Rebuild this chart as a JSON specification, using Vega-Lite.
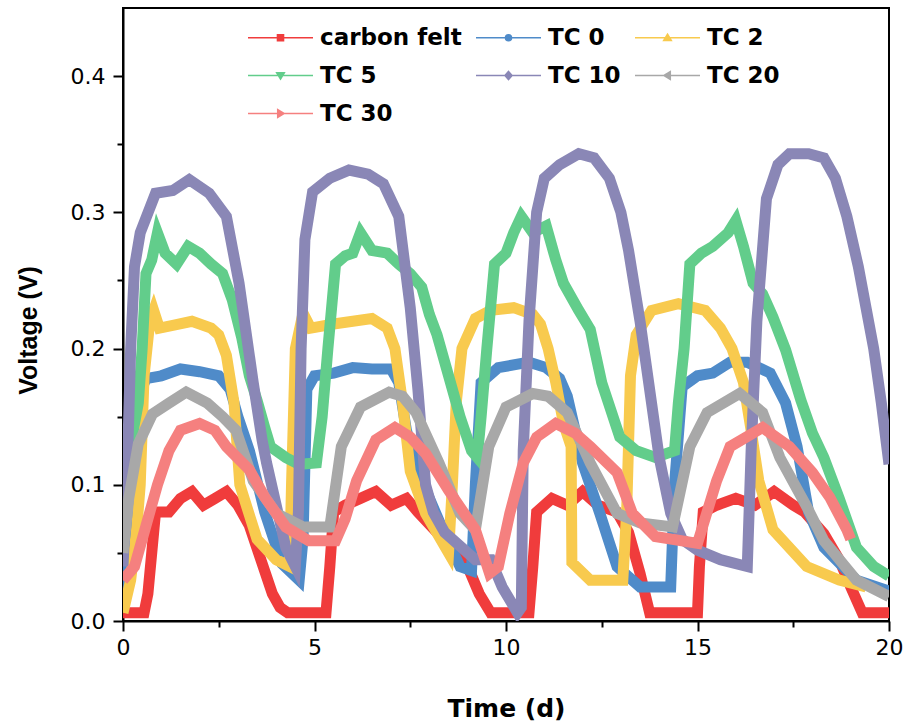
{
"$schema": "https://vega.github.io/schema/vega-lite/v6.json",
"width": 766, "height": 613,
"autosize": {"type": "none"},
"padding": {"left": 123, "top": 8, "right": 18, "bottom": 105},
"background": "white",
"config": {"view": {"stroke": "black", "strokeWidth": 2}},
"data": {"values": [
{"s":"carbon felt","t":0,"v":0.006},{"s":"carbon felt","t":0.55,"v":0.006},{"s":"carbon felt","t":0.65,"v":0.02},{"s":"carbon felt","t":0.75,"v":0.05},{"s":"carbon felt","t":0.85,"v":0.08},{"s":"carbon felt","t":1.2,"v":0.08},{"s":"carbon felt","t":1.5,"v":0.09},{"s":"carbon felt","t":1.8,"v":0.095},{"s":"carbon felt","t":2.1,"v":0.085},{"s":"carbon felt","t":2.4,"v":0.09},{"s":"carbon felt","t":2.7,"v":0.095},{"s":"carbon felt","t":3.0,"v":0.085},{"s":"carbon felt","t":3.3,"v":0.07},{"s":"carbon felt","t":3.6,"v":0.045},{"s":"carbon felt","t":3.9,"v":0.02},{"s":"carbon felt","t":4.1,"v":0.01},{"s":"carbon felt","t":4.3,"v":0.006},{"s":"carbon felt","t":5.3,"v":0.006},{"s":"carbon felt","t":5.4,"v":0.04},{"s":"carbon felt","t":5.5,"v":0.08},{"s":"carbon felt","t":5.8,"v":0.085},{"s":"carbon felt","t":6.2,"v":0.09},{"s":"carbon felt","t":6.6,"v":0.095},{"s":"carbon felt","t":7.0,"v":0.085},{"s":"carbon felt","t":7.4,"v":0.09},{"s":"carbon felt","t":7.7,"v":0.08},{"s":"carbon felt","t":8.2,"v":0.065},{"s":"carbon felt","t":8.7,"v":0.05},{"s":"carbon felt","t":9.0,"v":0.04},{"s":"carbon felt","t":9.3,"v":0.02},{"s":"carbon felt","t":9.6,"v":0.006},{"s":"carbon felt","t":10.6,"v":0.006},{"s":"carbon felt","t":10.7,"v":0.04},{"s":"carbon felt","t":10.8,"v":0.08},{"s":"carbon felt","t":11.2,"v":0.09},{"s":"carbon felt","t":11.6,"v":0.085},{"s":"carbon felt","t":12.0,"v":0.095},{"s":"carbon felt","t":12.4,"v":0.085},{"s":"carbon felt","t":12.9,"v":0.08},{"s":"carbon felt","t":13.2,"v":0.065},{"s":"carbon felt","t":13.5,"v":0.035},{"s":"carbon felt","t":13.75,"v":0.006},{"s":"carbon felt","t":15.0,"v":0.006},{"s":"carbon felt","t":15.05,"v":0.04},{"s":"carbon felt","t":15.15,"v":0.08},{"s":"carbon felt","t":15.5,"v":0.085},{"s":"carbon felt","t":16.0,"v":0.09},{"s":"carbon felt","t":16.5,"v":0.085},{"s":"carbon felt","t":17.0,"v":0.095},{"s":"carbon felt","t":17.5,"v":0.085},{"s":"carbon felt","t":17.8,"v":0.08},{"s":"carbon felt","t":18.3,"v":0.064},{"s":"carbon felt","t":18.7,"v":0.045},{"s":"carbon felt","t":19.0,"v":0.025},{"s":"carbon felt","t":19.3,"v":0.006},{"s":"carbon felt","t":20,"v":0.006},

{"s":"TC 0","t":0,"v":0.02},{"s":"TC 0","t":0.15,"v":0.08},{"s":"TC 0","t":0.35,"v":0.16},{"s":"TC 0","t":0.6,"v":0.178},{"s":"TC 0","t":1.0,"v":0.18},{"s":"TC 0","t":1.5,"v":0.185},{"s":"TC 0","t":2.0,"v":0.183},{"s":"TC 0","t":2.5,"v":0.18},{"s":"TC 0","t":2.8,"v":0.17},{"s":"TC 0","t":3.0,"v":0.15},{"s":"TC 0","t":3.3,"v":0.125},{"s":"TC 0","t":3.7,"v":0.08},{"s":"TC 0","t":4.15,"v":0.042},{"s":"TC 0","t":4.6,"v":0.03},{"s":"TC 0","t":4.7,"v":0.06},{"s":"TC 0","t":4.8,"v":0.17},{"s":"TC 0","t":5.0,"v":0.18},{"s":"TC 0","t":5.5,"v":0.182},{"s":"TC 0","t":6.0,"v":0.186},{"s":"TC 0","t":6.5,"v":0.185},{"s":"TC 0","t":7.0,"v":0.185},{"s":"TC 0","t":7.2,"v":0.175},{"s":"TC 0","t":7.4,"v":0.14},{"s":"TC 0","t":7.7,"v":0.11},{"s":"TC 0","t":8.0,"v":0.09},{"s":"TC 0","t":8.35,"v":0.067},{"s":"TC 0","t":8.8,"v":0.04},{"s":"TC 0","t":9.1,"v":0.037},{"s":"TC 0","t":9.2,"v":0.1},{"s":"TC 0","t":9.35,"v":0.175},{"s":"TC 0","t":9.8,"v":0.186},{"s":"TC 0","t":10.6,"v":0.19},{"s":"TC 0","t":11.05,"v":0.186},{"s":"TC 0","t":11.4,"v":0.178},{"s":"TC 0","t":11.6,"v":0.165},{"s":"TC 0","t":12.0,"v":0.116},{"s":"TC 0","t":12.45,"v":0.079},{"s":"TC 0","t":12.9,"v":0.04},{"s":"TC 0","t":13.5,"v":0.025},{"s":"TC 0","t":14.3,"v":0.025},{"s":"TC 0","t":14.4,"v":0.1},{"s":"TC 0","t":14.6,"v":0.172},{"s":"TC 0","t":15.0,"v":0.18},{"s":"TC 0","t":15.4,"v":0.182},{"s":"TC 0","t":15.85,"v":0.19},{"s":"TC 0","t":16.3,"v":0.19},{"s":"TC 0","t":16.9,"v":0.182},{"s":"TC 0","t":17.3,"v":0.16},{"s":"TC 0","t":17.6,"v":0.128},{"s":"TC 0","t":17.9,"v":0.08},{"s":"TC 0","t":18.3,"v":0.054},{"s":"TC 0","t":19.15,"v":0.03},{"s":"TC 0","t":20,"v":0.022},

{"s":"TC 2","t":0,"v":0.006},{"s":"TC 2","t":0.2,"v":0.03},{"s":"TC 2","t":0.35,"v":0.065},{"s":"TC 2","t":0.45,"v":0.1},{"s":"TC 2","t":0.55,"v":0.18},{"s":"TC 2","t":0.7,"v":0.22},{"s":"TC 2","t":0.8,"v":0.228},{"s":"TC 2","t":0.95,"v":0.215},{"s":"TC 2","t":1.3,"v":0.217},{"s":"TC 2","t":1.8,"v":0.22},{"s":"TC 2","t":2.3,"v":0.215},{"s":"TC 2","t":2.5,"v":0.21},{"s":"TC 2","t":2.7,"v":0.195},{"s":"TC 2","t":2.9,"v":0.16},{"s":"TC 2","t":3.05,"v":0.1},{"s":"TC 2","t":3.5,"v":0.06},{"s":"TC 2","t":4.0,"v":0.045},{"s":"TC 2","t":4.35,"v":0.04},{"s":"TC 2","t":4.4,"v":0.1},{"s":"TC 2","t":4.5,"v":0.2},{"s":"TC 2","t":4.7,"v":0.226},{"s":"TC 2","t":4.9,"v":0.215},{"s":"TC 2","t":5.5,"v":0.218},{"s":"TC 2","t":6.0,"v":0.22},{"s":"TC 2","t":6.5,"v":0.222},{"s":"TC 2","t":6.9,"v":0.215},{"s":"TC 2","t":7.1,"v":0.2},{"s":"TC 2","t":7.3,"v":0.16},{"s":"TC 2","t":7.5,"v":0.11},{"s":"TC 2","t":7.9,"v":0.079},{"s":"TC 2","t":8.5,"v":0.05},{"s":"TC 2","t":8.6,"v":0.1},{"s":"TC 2","t":8.7,"v":0.16},{"s":"TC 2","t":8.85,"v":0.2},{"s":"TC 2","t":9.2,"v":0.222},{"s":"TC 2","t":9.6,"v":0.228},{"s":"TC 2","t":10.2,"v":0.23},{"s":"TC 2","t":10.7,"v":0.225},{"s":"TC 2","t":10.9,"v":0.218},{"s":"TC 2","t":11.1,"v":0.2},{"s":"TC 2","t":11.3,"v":0.175},{"s":"TC 2","t":11.5,"v":0.145},{"s":"TC 2","t":11.7,"v":0.128},{"s":"TC 2","t":11.72,"v":0.043},{"s":"TC 2","t":12.2,"v":0.03},{"s":"TC 2","t":13.05,"v":0.03},{"s":"TC 2","t":13.15,"v":0.08},{"s":"TC 2","t":13.25,"v":0.18},{"s":"TC 2","t":13.4,"v":0.21},{"s":"TC 2","t":13.8,"v":0.228},{"s":"TC 2","t":14.5,"v":0.233},{"s":"TC 2","t":15.2,"v":0.228},{"s":"TC 2","t":15.6,"v":0.215},{"s":"TC 2","t":15.9,"v":0.2},{"s":"TC 2","t":16.2,"v":0.175},{"s":"TC 2","t":16.4,"v":0.14},{"s":"TC 2","t":16.6,"v":0.103},{"s":"TC 2","t":16.97,"v":0.067},{"s":"TC 2","t":17.85,"v":0.04},{"s":"TC 2","t":18.7,"v":0.03},{"s":"TC 2","t":19.4,"v":0.025},

{"s":"TC 5","t":0,"v":0.1},{"s":"TC 5","t":0.2,"v":0.13},{"s":"TC 5","t":0.4,"v":0.16},{"s":"TC 5","t":0.5,"v":0.2},{"s":"TC 5","t":0.6,"v":0.255},{"s":"TC 5","t":0.75,"v":0.265},{"s":"TC 5","t":0.9,"v":0.285},{"s":"TC 5","t":1.1,"v":0.27},{"s":"TC 5","t":1.4,"v":0.262},{"s":"TC 5","t":1.7,"v":0.275},{"s":"TC 5","t":2.0,"v":0.27},{"s":"TC 5","t":2.3,"v":0.262},{"s":"TC 5","t":2.6,"v":0.255},{"s":"TC 5","t":2.85,"v":0.236},{"s":"TC 5","t":3.1,"v":0.208},{"s":"TC 5","t":3.3,"v":0.18},{"s":"TC 5","t":3.5,"v":0.162},{"s":"TC 5","t":3.7,"v":0.142},{"s":"TC 5","t":3.85,"v":0.128},{"s":"TC 5","t":4.25,"v":0.12},{"s":"TC 5","t":4.6,"v":0.115},{"s":"TC 5","t":5.05,"v":0.116},{"s":"TC 5","t":5.2,"v":0.15},{"s":"TC 5","t":5.35,"v":0.2},{"s":"TC 5","t":5.55,"v":0.262},{"s":"TC 5","t":5.8,"v":0.268},{"s":"TC 5","t":6.0,"v":0.27},{"s":"TC 5","t":6.2,"v":0.285},{"s":"TC 5","t":6.5,"v":0.272},{"s":"TC 5","t":6.9,"v":0.27},{"s":"TC 5","t":7.2,"v":0.262},{"s":"TC 5","t":7.5,"v":0.255},{"s":"TC 5","t":7.8,"v":0.245},{"s":"TC 5","t":8.0,"v":0.225},{"s":"TC 5","t":8.2,"v":0.21},{"s":"TC 5","t":8.5,"v":0.18},{"s":"TC 5","t":8.8,"v":0.15},{"s":"TC 5","t":9.1,"v":0.125},{"s":"TC 5","t":9.25,"v":0.12},{"s":"TC 5","t":9.35,"v":0.15},{"s":"TC 5","t":9.5,"v":0.2},{"s":"TC 5","t":9.7,"v":0.262},{"s":"TC 5","t":10.0,"v":0.27},{"s":"TC 5","t":10.2,"v":0.285},{"s":"TC 5","t":10.4,"v":0.297},{"s":"TC 5","t":10.7,"v":0.285},{"s":"TC 5","t":11.05,"v":0.29},{"s":"TC 5","t":11.3,"v":0.265},{"s":"TC 5","t":11.5,"v":0.248},{"s":"TC 5","t":11.9,"v":0.228},{"s":"TC 5","t":12.2,"v":0.214},{"s":"TC 5","t":12.5,"v":0.175},{"s":"TC 5","t":12.97,"v":0.135},{"s":"TC 5","t":13.4,"v":0.125},{"s":"TC 5","t":13.9,"v":0.12},{"s":"TC 5","t":14.4,"v":0.125},{"s":"TC 5","t":14.5,"v":0.16},{"s":"TC 5","t":14.65,"v":0.2},{"s":"TC 5","t":14.8,"v":0.262},{"s":"TC 5","t":15.1,"v":0.27},{"s":"TC 5","t":15.4,"v":0.275},{"s":"TC 5","t":15.8,"v":0.285},{"s":"TC 5","t":16.0,"v":0.294},{"s":"TC 5","t":16.2,"v":0.275},{"s":"TC 5","t":16.45,"v":0.248},{"s":"TC 5","t":16.7,"v":0.24},{"s":"TC 5","t":16.97,"v":0.223},{"s":"TC 5","t":17.3,"v":0.199},{"s":"TC 5","t":17.7,"v":0.162},{"s":"TC 5","t":18.0,"v":0.138},{"s":"TC 5","t":18.3,"v":0.12},{"s":"TC 5","t":18.7,"v":0.09},{"s":"TC 5","t":19.15,"v":0.054},{"s":"TC 5","t":19.6,"v":0.04},{"s":"TC 5","t":20,"v":0.033},

{"s":"TC 10","t":0,"v":0.04},{"s":"TC 10","t":0.1,"v":0.1},{"s":"TC 10","t":0.2,"v":0.2},{"s":"TC 10","t":0.3,"v":0.26},{"s":"TC 10","t":0.45,"v":0.285},{"s":"TC 10","t":0.85,"v":0.314},{"s":"TC 10","t":1.3,"v":0.316},{"s":"TC 10","t":1.73,"v":0.324},{"s":"TC 10","t":2.25,"v":0.314},{"s":"TC 10","t":2.7,"v":0.297},{"s":"TC 10","t":3.03,"v":0.248},{"s":"TC 10","t":3.4,"v":0.175},{"s":"TC 10","t":3.63,"v":0.133},{"s":"TC 10","t":3.75,"v":0.116},{"s":"TC 10","t":4.25,"v":0.054},{"s":"TC 10","t":4.5,"v":0.04},{"s":"TC 10","t":4.58,"v":0.08},{"s":"TC 10","t":4.65,"v":0.2},{"s":"TC 10","t":4.75,"v":0.28},{"s":"TC 10","t":4.95,"v":0.315},{"s":"TC 10","t":5.4,"v":0.325},{"s":"TC 10","t":5.9,"v":0.331},{"s":"TC 10","t":6.4,"v":0.328},{"s":"TC 10","t":6.8,"v":0.321},{"s":"TC 10","t":7.2,"v":0.297},{"s":"TC 10","t":7.5,"v":0.23},{"s":"TC 10","t":7.7,"v":0.17},{"s":"TC 10","t":7.9,"v":0.1},{"s":"TC 10","t":8.1,"v":0.08},{"s":"TC 10","t":8.4,"v":0.065},{"s":"TC 10","t":9.2,"v":0.045},{"s":"TC 10","t":9.6,"v":0.045},{"s":"TC 10","t":9.9,"v":0.025},{"s":"TC 10","t":10.3,"v":0.006},{"s":"TC 10","t":10.4,"v":0.01},{"s":"TC 10","t":10.45,"v":0.125},{"s":"TC 10","t":10.6,"v":0.22},{"s":"TC 10","t":10.8,"v":0.3},{"s":"TC 10","t":11.0,"v":0.325},{"s":"TC 10","t":11.4,"v":0.335},{"s":"TC 10","t":11.9,"v":0.343},{"s":"TC 10","t":12.3,"v":0.34},{"s":"TC 10","t":12.7,"v":0.325},{"s":"TC 10","t":13.0,"v":0.3},{"s":"TC 10","t":13.2,"v":0.272},{"s":"TC 10","t":13.5,"v":0.22},{"s":"TC 10","t":13.8,"v":0.16},{"s":"TC 10","t":14.0,"v":0.12},{"s":"TC 10","t":14.3,"v":0.079},{"s":"TC 10","t":14.6,"v":0.06},{"s":"TC 10","t":15.0,"v":0.052},{"s":"TC 10","t":15.6,"v":0.045},{"s":"TC 10","t":16.3,"v":0.04},{"s":"TC 10","t":16.4,"v":0.125},{"s":"TC 10","t":16.55,"v":0.22},{"s":"TC 10","t":16.8,"v":0.31},{"s":"TC 10","t":17.1,"v":0.335},{"s":"TC 10","t":17.4,"v":0.343},{"s":"TC 10","t":17.9,"v":0.343},{"s":"TC 10","t":18.3,"v":0.34},{"s":"TC 10","t":18.6,"v":0.325},{"s":"TC 10","t":18.9,"v":0.297},{"s":"TC 10","t":19.2,"v":0.26},{"s":"TC 10","t":19.4,"v":0.23},{"s":"TC 10","t":19.6,"v":0.2},{"s":"TC 10","t":19.8,"v":0.16},{"s":"TC 10","t":20,"v":0.115},

{"s":"TC 20","t":0,"v":0.05},{"s":"TC 20","t":0.15,"v":0.09},{"s":"TC 20","t":0.4,"v":0.13},{"s":"TC 20","t":0.77,"v":0.152},{"s":"TC 20","t":1.2,"v":0.16},{"s":"TC 20","t":1.65,"v":0.168},{"s":"TC 20","t":2.2,"v":0.16},{"s":"TC 20","t":2.6,"v":0.15},{"s":"TC 20","t":2.95,"v":0.14},{"s":"TC 20","t":3.4,"v":0.103},{"s":"TC 20","t":4.0,"v":0.079},{"s":"TC 20","t":4.7,"v":0.069},{"s":"TC 20","t":5.4,"v":0.069},{"s":"TC 20","t":5.7,"v":0.128},{"s":"TC 20","t":6.2,"v":0.157},{"s":"TC 20","t":6.95,"v":0.168},{"s":"TC 20","t":7.3,"v":0.165},{"s":"TC 20","t":7.65,"v":0.153},{"s":"TC 20","t":8.25,"v":0.116},{"s":"TC 20","t":8.8,"v":0.079},{"s":"TC 20","t":9.2,"v":0.067},{"s":"TC 20","t":9.55,"v":0.128},{"s":"TC 20","t":10.0,"v":0.157},{"s":"TC 20","t":10.7,"v":0.167},{"s":"TC 20","t":11.1,"v":0.165},{"s":"TC 20","t":11.6,"v":0.153},{"s":"TC 20","t":12.2,"v":0.116},{"s":"TC 20","t":12.9,"v":0.079},{"s":"TC 20","t":13.5,"v":0.072},{"s":"TC 20","t":14.35,"v":0.069},{"s":"TC 20","t":14.8,"v":0.128},{"s":"TC 20","t":15.25,"v":0.153},{"s":"TC 20","t":16.1,"v":0.167},{"s":"TC 20","t":16.7,"v":0.153},{"s":"TC 20","t":17.15,"v":0.12},{"s":"TC 20","t":17.85,"v":0.084},{"s":"TC 20","t":18.3,"v":0.059},{"s":"TC 20","t":19.15,"v":0.03},{"s":"TC 20","t":20,"v":0.018},

{"s":"TC 30","t":0,"v":0.03},{"s":"TC 30","t":0.3,"v":0.04},{"s":"TC 30","t":0.6,"v":0.07},{"s":"TC 30","t":0.9,"v":0.1},{"s":"TC 30","t":1.2,"v":0.125},{"s":"TC 30","t":1.5,"v":0.14},{"s":"TC 30","t":2.0,"v":0.145},{"s":"TC 30","t":2.4,"v":0.14},{"s":"TC 30","t":2.7,"v":0.128},{"s":"TC 30","t":3.3,"v":0.111},{"s":"TC 30","t":3.7,"v":0.091},{"s":"TC 30","t":4.25,"v":0.069},{"s":"TC 30","t":4.85,"v":0.059},{"s":"TC 30","t":5.55,"v":0.059},{"s":"TC 30","t":5.8,"v":0.075},{"s":"TC 30","t":6.1,"v":0.103},{"s":"TC 30","t":6.6,"v":0.133},{"s":"TC 30","t":7.1,"v":0.142},{"s":"TC 30","t":7.5,"v":0.135},{"s":"TC 30","t":7.9,"v":0.123},{"s":"TC 30","t":8.5,"v":0.096},{"s":"TC 30","t":9.2,"v":0.067},{"s":"TC 30","t":9.57,"v":0.035},{"s":"TC 30","t":9.8,"v":0.04},{"s":"TC 30","t":10.1,"v":0.079},{"s":"TC 30","t":10.45,"v":0.116},{"s":"TC 30","t":10.8,"v":0.135},{"s":"TC 30","t":11.3,"v":0.145},{"s":"TC 30","t":11.8,"v":0.138},{"s":"TC 30","t":12.2,"v":0.128},{"s":"TC 30","t":12.9,"v":0.109},{"s":"TC 30","t":13.3,"v":0.079},{"s":"TC 30","t":13.9,"v":0.062},{"s":"TC 30","t":15.0,"v":0.057},{"s":"TC 30","t":15.5,"v":0.103},{"s":"TC 30","t":15.85,"v":0.128},{"s":"TC 30","t":16.7,"v":0.142},{"s":"TC 30","t":17.4,"v":0.128},{"s":"TC 30","t":18.0,"v":0.109},{"s":"TC 30","t":18.45,"v":0.091},{"s":"TC 30","t":18.9,"v":0.067},{"s":"TC 30","t":19.0,"v":0.06}
]},
"encoding": {
  "x": {"field": "t", "type": "quantitative",
    "scale": {"domain": [0, 20], "nice": false},
    "axis": {"title": "Time (d)", "values": [0,2.5,5,7.5,10,12.5,15,17.5,20],
      "labelExpr": "datum.value % 5 === 0 ? format(datum.value, 'd') : ''",
      "grid": false, "domainColor": "black", "domainWidth": 2, "tickColor": "black", "tickWidth": 2,
      "tickSize": {"condition": {"test": "datum.value % 5 === 0", "value": 10}, "value": 6},
      "labelFont": "DejaVu Sans", "labelFontSize": 22, "labelColor": "black", "labelPadding": 6,
      "labelFlush": false,
      "titleFont": "DejaVu Sans", "titleFontSize": 25, "titleFontWeight": "bold", "titleColor": "black",
      "titleY": 95, "titleBaseline": "alphabetic"}},
  "y": {"field": "v", "type": "quantitative",
    "scale": {"domain": [0, 0.45], "nice": false, "zero": false},
    "axis": {"title": "Voltage (V)", "values": [0,0.05,0.1,0.15,0.2,0.25,0.3,0.35,0.4],
      "labelExpr": "round(datum.value*100) % 10 === 0 ? format(datum.value, '.1f') : ''",
      "grid": false, "domainColor": "black", "domainWidth": 2, "tickColor": "black", "tickWidth": 2,
      "tickSize": {"condition": {"test": "round(datum.value*100) % 10 === 0", "value": 10}, "value": 6},
      "labelFont": "DejaVu Sans", "labelFontSize": 22, "labelColor": "black", "labelPadding": 8,
      "labelFlush": false,
      "titleFont": "Liberation Sans", "titleFontSize": 25, "titleFontWeight": "bold", "titleColor": "black",
      "titleX": -87, "titleY": 322, "titleBaseline": "alphabetic", "titleAngle": -90}}
},
"layer": [
  {"mark": {"type": "line", "strokeWidth": 11, "clip": true},
   "encoding": {
     "color": {"field": "s", "type": "nominal",
       "scale": {"domain": ["carbon felt","TC 0","TC 2","TC 5","TC 10","TC 20","TC 30"],
                 "range": ["#F03C3C","#4F8BC9","#F8CA4E","#62CD8B","#8A87B6","#A8A8A8","#F5807F"]},
       "legend": {"title": null, "orient": "none", "legendX": 146, "legendY": 18, "columns": 3, "direction": "horizontal",
         "symbolSize": 100, "symbolStrokeWidth": 1.6, "symbolOpacity": 1,
         "labelFont": "DejaVu Sans", "labelFontWeight": "bold", "labelFontSize": 23, "labelColor": "black",
         "labelOffset": 28, "columnPadding": 10, "rowPadding": 14, "padding": 0, "labelLimit": 300}}}},
  {"transform": [{"filter": "datum.t > 100"}],
   "mark": {"type": "point", "filled": true, "opacity": 1, "size": 100},
   "encoding": {
     "color": {"field": "s", "type": "nominal"},
     "stroke": {"field": "s", "type": "nominal",
       "scale": {"domain": ["carbon felt","TC 0","TC 2","TC 5","TC 10","TC 20","TC 30"],
                 "range": ["#F03C3C","#4F8BC9","#F8CA4E","#62CD8B","#8A87B6","#A8A8A8","#F5807F"]}},
     "shape": {"field": "s", "type": "nominal",
       "scale": {"domain": ["carbon felt","TC 0","TC 2","TC 5","TC 10","TC 20","TC 30"],
         "range": [
           "M-6.5,0H6.5M-0.6,-0.6H0.6V0.6H-0.6Z",
           "M-6.5,0H6.5M-0.6,0A0.6,0.6 0 1,0 0.6,0A0.6,0.6 0 1,0 -0.6,0Z",
           "M-6.5,0H6.5M0,-0.7L0.75,0.55H-0.75Z",
           "M-6.5,0H6.5M0,0.7L0.75,-0.55H-0.75Z",
           "M-6.5,0H6.5M0,-0.8L0.7,0L0,0.8L-0.7,0Z",
           "M-6.5,0H6.5M-0.7,0L0.55,-0.75V0.75Z",
           "M-6.5,0H6.5M0.7,0L-0.55,-0.75V0.75Z"]}}
   }}
]
}
